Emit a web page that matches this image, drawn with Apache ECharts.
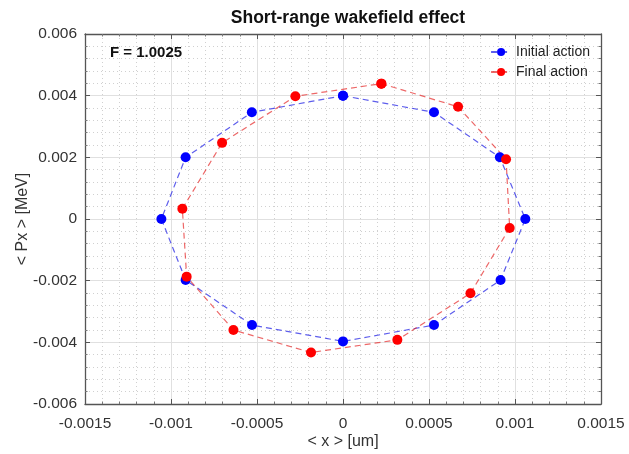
<!DOCTYPE html>
<html>
<head>
<meta charset="utf-8">
<script src="https://cdn.jsdelivr.net/npm/echarts@6/dist/echarts.min.js"></script>
<style>
  html, body { margin: 0; padding: 0; background: #fff; }
  #chart { width: 629px; height: 454px; }
</style>
</head>
<body>
<div id="chart"></div>
<script>
// Phase-space points of the beam centroid, before and after the wakefield kick
const initialX  = [0, 0.000529, 0.000912, 0.001060, 0.000916, 0.000529, 0, -0.000529, -0.000915, -0.001056, -0.000915, -0.000530, 0];
const initialPx = [0.00400, 0.00346, 0.00200, 0, -0.00198, -0.00344, -0.00397, -0.00344, -0.00198, 0, 0.00200, 0.00346, 0.00400];

const finalX  = [0.000223, 0.000669, 0.000948, 0.000969, 0.000741, 0.000316, -0.000186, -0.000637, -0.000909, -0.000934, -0.000703, -0.000277, 0.000223];
const finalPx = [0.00439, 0.00364, 0.00194, -0.00029, -0.00241, -0.00392, -0.00433, -0.00360, -0.00187, 0.00033, 0.00247, 0.00398, 0.00439];

const seriesNames = ['Initial action', 'Final action'];
const xRange = [-0.0015, 0.0015];
const xStep = 0.0005;
const yRange = [-0.006, 0.006];
const yStep = 0.002;
const annotation = 'F = 1.0025';

const pairs = (xs, ys) => xs.map((x, i) => [x, ys[i]]);
const fmt = v => String(+(+v).toFixed(4));

const font = 'Liberation Sans, Arial, sans-serif';
const gridLine = { show: true, lineStyle: { color: '#e0e0e0', width: 1 } };
const minorLine = { show: true, lineStyle: { color: '#d0d0d0', width: 1, type: [1, 3] } };
const border = { show: true, onZero: false, lineStyle: { color: '#555', width: 1.3 } };
const tick = { show: true, inside: true, length: 5, lineStyle: { color: '#555' } };
const minorTick = { show: true, splitNumber: 5, length: 2.5, lineStyle: { color: '#777' } };

function xAxis(pos, main) {
  return {
    type: 'value', position: pos, min: xRange[0], max: xRange[1], interval: xStep,
    axisLine: border, axisTick: tick,
    axisLabel: main ? { show: true, formatter: fmt, color: '#333', fontSize: 15.5, fontFamily: font, margin: 12 } : { show: false },
    splitLine: main ? gridLine : { show: false },
    minorTick: Object.assign({}, minorTick),
    minorSplitLine: main ? minorLine : { show: false },
    name: main ? '< x > [um]' : '',
    nameLocation: 'middle', nameGap: 30, nameMoveOverlap: false,
    nameTextStyle: { color: '#333', fontSize: 16, fontFamily: font }
  };
}
function yAxis(pos, main) {
  return {
    type: 'value', position: pos, min: yRange[0], max: yRange[1], interval: yStep,
    axisLine: border, axisTick: tick,
    axisLabel: main ? { show: true, formatter: fmt, color: '#333', fontSize: 15.5, fontFamily: font, margin: 8 } : { show: false },
    splitLine: main ? gridLine : { show: false },
    minorTick: Object.assign({}, minorTick),
    minorSplitLine: main ? minorLine : { show: false },
    name: main ? '< Px > [MeV]' : '',
    nameLocation: 'middle', nameGap: 54, nameRotate: 90, nameMoveOverlap: false,
    nameTextStyle: { color: '#333', fontSize: 16, fontFamily: font }
  };
}

function lineSeries(name, data, color, lineColor) {
  return {
    name, type: 'line', data, xAxisIndex: 0, yAxisIndex: 0,
    symbol: 'circle', symbolSize: 10, z: 5,
    itemStyle: { color },
    lineStyle: { color: lineColor, width: 1.2, type: [6, 4] },
    emphasis: { disabled: true }, animation: false
  };
}

const chart = echarts.init(document.getElementById('chart'), null, { renderer: 'canvas' });
chart.setOption({
  backgroundColor: '#fff',
  animation: false,
  title: {
    text: 'Short-range wakefield effect', left: 343, top: 4, textAlign: 'center',
    textStyle: { fontSize: 17.5, fontWeight: 'bold', color: '#111', fontFamily: font }
  },
  grid: { left: 85, right: 28, top: 34, bottom: 50, containLabel: false, outerBoundsMode: 'none' },
  xAxis: [xAxis('bottom', true), xAxis('top', false)],
  yAxis: [yAxis('left', true), yAxis('right', false)],
  legend: {
    orient: 'vertical', right: 34, top: 40, itemGap: 6, itemWidth: 20, itemHeight: 10,
    textStyle: { fontSize: 14, color: '#222', fontFamily: font },
    data: seriesNames
  },
  graphic: [{
    type: 'text', x: 110, y: 53, z: 100,
    style: { text: annotation, font: 'bold 15px ' + font, fill: '#111', verticalAlign: 'middle' }
  }],
  series: [
    lineSeries(seriesNames[0], pairs(initialX, initialPx), '#0000ff', 'rgba(40,40,230,0.75)'),
    lineSeries(seriesNames[1], pairs(finalX, finalPx), '#ff0000', 'rgba(230,40,40,0.7)')
  ]
});
</script>
</body>
</html>
